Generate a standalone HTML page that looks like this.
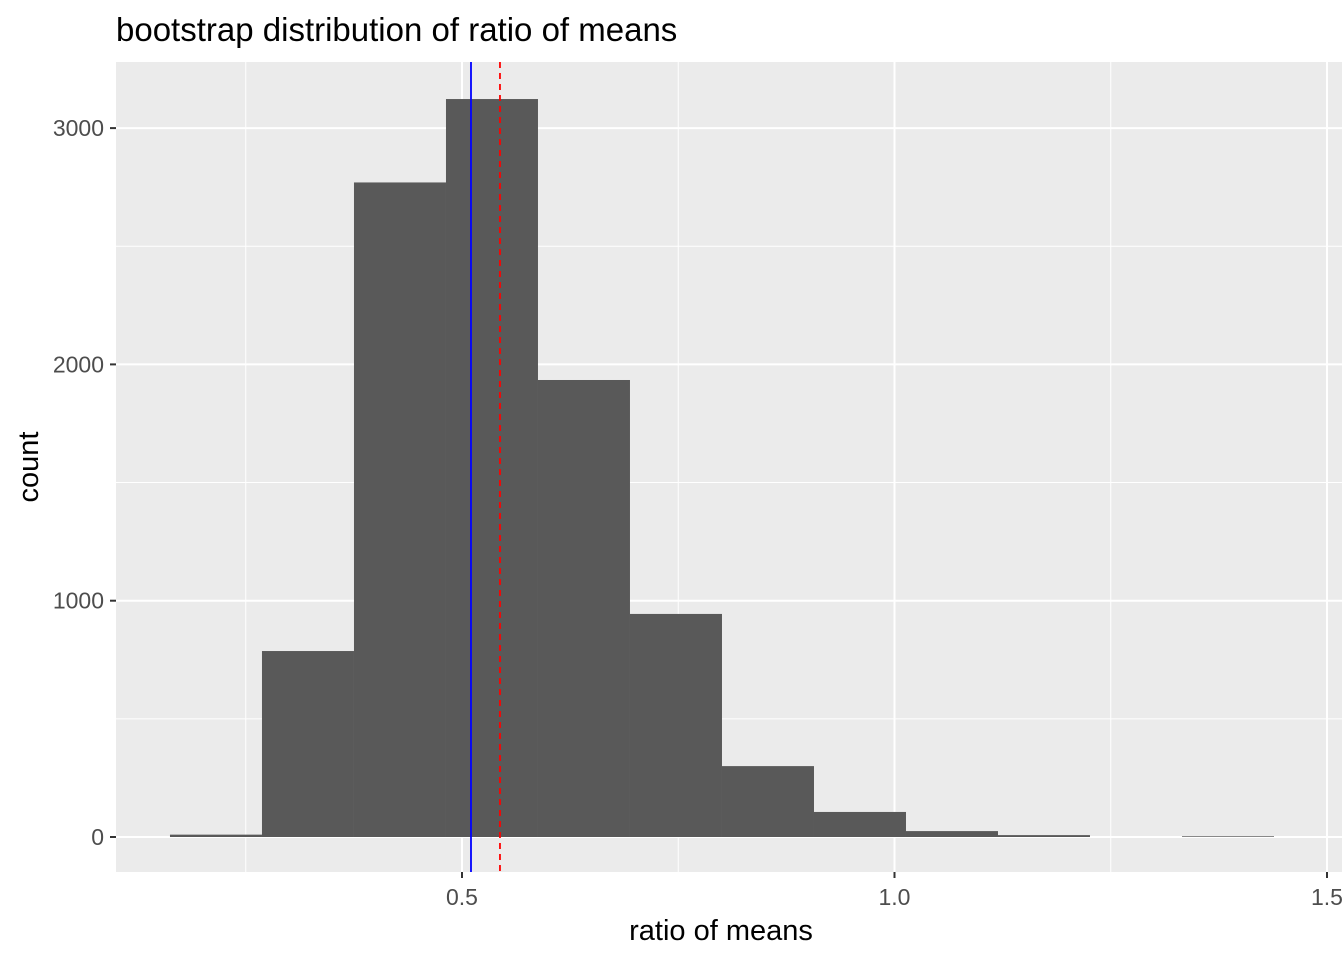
<!DOCTYPE html>
<html><head><meta charset="utf-8"><style>
body{margin:0;background:#fff;}
svg text{font-family:"Liberation Sans",Arial,sans-serif;}
</style></head><body>
<svg id="chart" width="1344" height="960" xmlns="http://www.w3.org/2000/svg">
<text x="116" y="41" font-size="33" fill="#000">bootstrap distribution of ratio of means</text>
<rect x="116" y="62" width="1226" height="810" fill="#EBEBEB"/>
<g id="grid"></g><g id="bars"></g><g id="lines"></g><g id="axes"></g>
<text x="721" y="940" font-size="29" text-anchor="middle" fill="#000">ratio of means</text>
<text transform="translate(38,467) rotate(-90)" font-size="29" text-anchor="middle" fill="#000">count</text>
</svg>
<script>
const binStart = 0.1624;
const binWidth = 0.10636;
const counts = [10, 787, 2770, 3123, 1934, 944, 300, 106, 25, 8, 0, 3];
const xTicks = [0.5, 1.0, 1.5];
const xTickLabels = ["0.5", "1.0", "1.5"];
const yTicks = [0, 1000, 2000, 3000];
const yTickLabels = ["0", "1000", "2000", "3000"];
const observedRatio = 0.5104;
const bootMean = 0.5439;
const NS = "http://www.w3.org/2000/svg";
const xs = v => 462 + (v - 0.5) * 865;
const ys = v => 837 - v * 0.2363;
function mk(tag, attrs, parent){const e=document.createElementNS(NS,tag);for(const k in attrs)e.setAttribute(k,attrs[k]);document.getElementById(parent).appendChild(e);return e;}
for(let i=0;i<xTicks.length;i++){
  const mid=xTicks[i]-0.25;
  const m=mk('line',{x1:xs(mid),x2:xs(mid),y1:62,y2:872,stroke:'#fff','stroke-width':1},'grid');
  
  
  const g=mk('line',{x1:xs(xTicks[i]),x2:xs(xTicks[i]),y1:62,y2:872,stroke:'#fff','stroke-width':2},'grid');
  
  
  const t=mk('line',{x1:xs(xTicks[i]),x2:xs(xTicks[i]),y1:872,y2:878,stroke:'#333','stroke-width':2},'axes');
  
  
  const l=mk('text',{x:xs(xTicks[i]),y:905,'font-size':23,'text-anchor':'middle',fill:'#4D4D4D'},'axes');
  l.textContent=xTickLabels[i];
  
  
}
for(let i=0;i<yTicks.length;i++){
  const mid=yTicks[i]+500;
  const m=mk('line',{x1:116,x2:1342,y1:ys(mid),y2:ys(mid),stroke:'#fff','stroke-width':1},'grid');
  
  
  const g=mk('line',{x1:116,x2:1342,y1:ys(yTicks[i]),y2:ys(yTicks[i]),stroke:'#fff','stroke-width':2},'grid');
  
  
  const t=mk('line',{x1:110,x2:116,y1:ys(yTicks[i]),y2:ys(yTicks[i]),stroke:'#333','stroke-width':2},'axes');
  
  
  const l=mk('text',{x:104,y:ys(yTicks[i])+8,'font-size':23,'text-anchor':'end',fill:'#4D4D4D'},'axes');
  l.textContent=yTickLabels[i];
  
  
}
for(let i=0;i<counts.length;i++){
  const x0=xs(binStart+i*binWidth), x1=xs(binStart+(i+1)*binWidth);
  const y=ys(counts[i]);
  const b=mk('rect',{x:x0,y:y,width:x1-x0,height:ys(0)-y,fill:'#595959'},'bars');
  
  
}
const bl=mk('line',{x1:xs(observedRatio),x2:xs(observedRatio),y1:62,y2:872,stroke:'#0000FF','stroke-width':1.8},'lines');


const rl=mk('line',{x1:xs(bootMean),x2:xs(bootMean),y1:62,y2:872,stroke:'#FF0000','stroke-width':1.8,'stroke-dasharray':'6,5'},'lines');


</script>
</body></html>
